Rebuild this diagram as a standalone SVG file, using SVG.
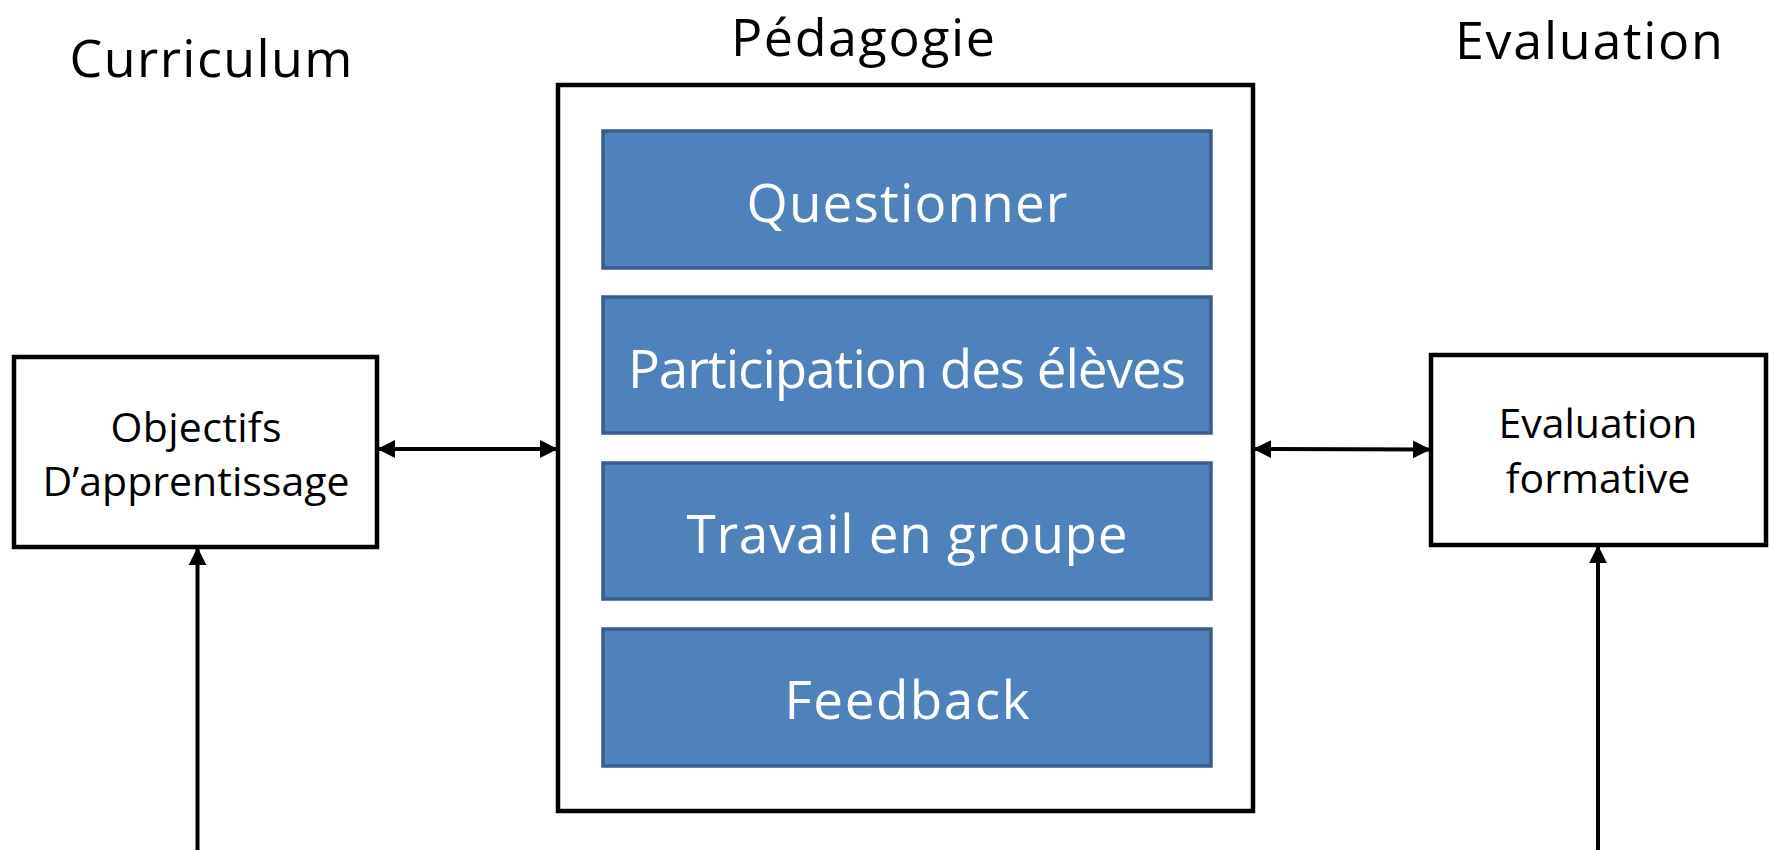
<svg xmlns="http://www.w3.org/2000/svg" width="1769" height="850" viewBox="0 0 1769 850">
<style>
.title{font-family:"Open Sans","Noto Sans",sans-serif;font-size:52px;fill:#000;text-anchor:middle}
.lbl{font-family:"Open Sans","Noto Sans",sans-serif;font-size:41px;fill:#000;text-anchor:middle}
.blbl{font-family:"Open Sans","Noto Sans",sans-serif;font-size:53px;fill:#fff;text-anchor:middle}
.box{fill:#fff;stroke:#000;stroke-width:4.5}
.blue{fill:#4F81BD;stroke:#385D8A;stroke-width:3.5}
.conn{stroke:#000;stroke-width:4;fill:none}
</style>
<defs>
<marker id="ah" viewBox="0 0 10 10" refX="9" refY="5" markerWidth="4.5" markerHeight="5" orient="auto-start-reverse" markerUnits="strokeWidth">
<path d="M0,0 L10,5 L0,10 z" fill="#000"/>
</marker>
</defs>
<g id="title-curriculum"><text class="title" x="211" y="77" textLength="283">Curriculum</text></g>
<g id="title-pedagogie"><text class="title" x="863" y="56" textLength="264">Pédagogie</text></g>
<g id="title-evaluation"><text class="title" x="1589" y="59" textLength="268">Evaluation</text></g>

<g id="pedagogie">
<rect class="box" x="558" y="85" width="695" height="726"/>
</g>
<g id="questionner">
<rect class="blue" x="603" y="131" width="608" height="137"/>
<text class="blbl" x="907" y="222" textLength="321">Questionner</text>
</g>
<g id="participation">
<rect class="blue" x="603" y="297" width="608" height="136"/>
<text class="blbl" x="907" y="388" textLength="558">Participation des élèves</text>
</g>
<g id="travail">
<rect class="blue" x="603" y="463" width="608" height="136"/>
<text class="blbl" x="907" y="553" textLength="441">Travail en groupe</text>
</g>
<g id="feedback">
<rect class="blue" x="603" y="629" width="608" height="137"/>
<text class="blbl" x="907" y="719" textLength="245">Feedback</text>
</g>

<g id="objectifs">
<rect class="box" x="14" y="357" width="363" height="190"/>
<text class="lbl" x="196" y="442" textLength="171">Objectifs</text>
<text class="lbl" x="196" y="496" textLength="307">D’apprentissage</text>
</g>
<g id="evaluation-formative">
<rect class="box" x="1431" y="355" width="335" height="190"/>
<text class="lbl" x="1598" y="438" textLength="199">Evaluation</text>
<text class="lbl" x="1598" y="493">formative</text>
</g>

<g id="connectors">
<line class="conn" x1="379" y1="449" x2="556" y2="449" marker-start="url(#ah)" marker-end="url(#ah)"/>
<line class="conn" x1="1255" y1="449" x2="1429" y2="449.5" marker-start="url(#ah)" marker-end="url(#ah)"/>
<line class="conn" x1="197.5" y1="850" x2="197.5" y2="549" marker-end="url(#ah)"/>
<line class="conn" x1="1598" y1="850" x2="1598" y2="547" marker-end="url(#ah)"/>
</g>
</svg>
